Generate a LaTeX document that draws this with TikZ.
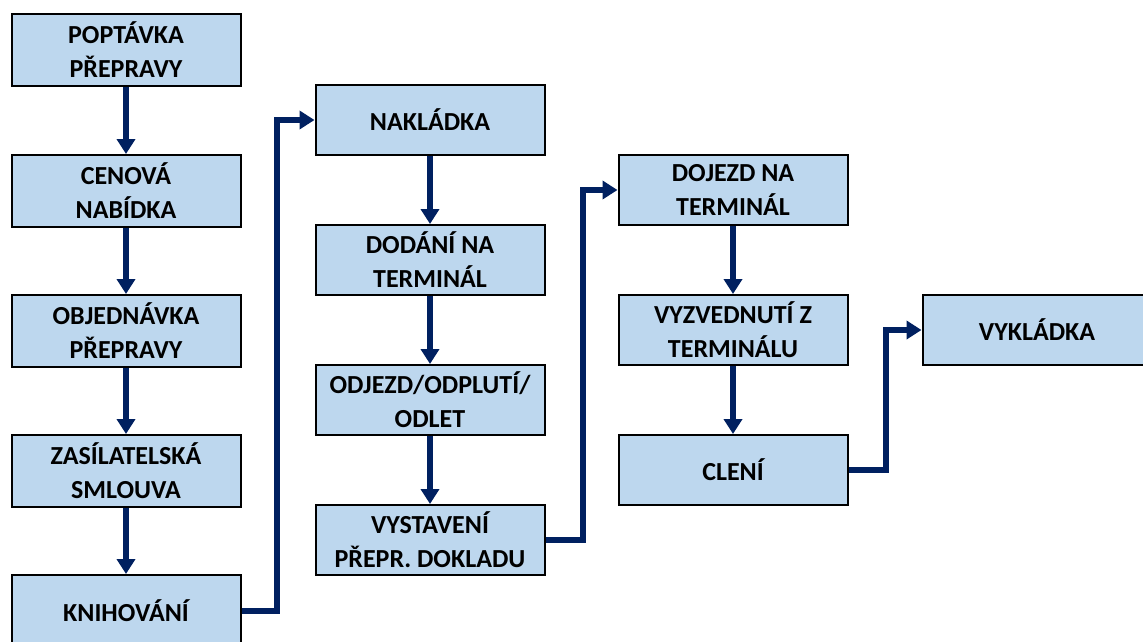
\documentclass[tikz,border=0pt]{standalone}
\usepackage{fontspec}
\setmainfont{Carlito}
\usetikzlibrary{arrows.meta}
\definecolor{boxfill}{HTML}{BDD7EE}
\definecolor{navy}{HTML}{002060}
\tikzset{
  stepbox/.style={draw=black, line width=2pt, fill=boxfill, rectangle,
    minimum width=229pt, minimum height=70pt, inner sep=0pt,
    align=center, text=black,
    font=\bfseries\fontsize{26}{34}\selectfont},
  flow/.style={draw=navy, line width=5.5pt,
    -{Triangle[length=15pt,width=18pt]}},
}
\begin{document}
\begin{tikzpicture}[x=1pt,y=-1pt]
\useasboundingbox (0,0) rectangle (1143,641);
\clip (0,0) rectangle (1143,641);
\fill[white] (0,0) rectangle (1143,641);
% column 1
\node[stepbox, minimum height=72pt] (a1) at (126,50) {POPTÁVKA\\PŘEPRAVY};
\node[stepbox, minimum height=72pt] (a2) at (126,191) {CENOVÁ\\NABÍDKA};
\node[stepbox, minimum height=72pt] (a3) at (126,331) {OBJEDNÁVKA\\PŘEPRAVY};
\node[stepbox, minimum height=72pt] (a4) at (126,471) {ZASÍLATELSKÁ\\SMLOUVA};
\node[stepbox, minimum height=72pt] (a5) at (126,611) {KNIHOVÁNÍ};
% column 2
\node[stepbox] (b1) at (430,120) {NAKLÁDKA};
\node[stepbox] (b2) at (430,260) {DODÁNÍ NA\\TERMINÁL};
\node[stepbox] (b3) at (430,400) {ODJEZD/ODPLUTÍ/\\ODLET};
\node[stepbox] (b4) at (430,540) {VYSTAVENÍ\\PŘEPR. DOKLADU};
% column 3
\node[stepbox] (c1) at (733,190) {DOJEZD NA\\TERMINÁL};
\node[stepbox] (c2) at (733,330) {VYZVEDNUTÍ Z\\TERMINÁLU};
\node[stepbox] (c3) at (733,470) {CLENÍ};
% column 4
\node[stepbox] (d1) at (1037,330) {VYKLÁDKA};
% elbow coordinates
\coordinate (e1) at (277,0);
\coordinate (e2) at (583,0);
\coordinate (e3) at (886,0);
% arrows
\draw[flow] (a1) -- (a2);
\draw[flow] (a2) -- (a3);
\draw[flow] (a3) -- (a4);
\draw[flow] (a4) -- (a5);
\draw[flow] (b1) -- (b2);
\draw[flow] (b2) -- (b3);
\draw[flow] (b3) -- (b4);
\draw[flow] (c1) -- (c2);
\draw[flow] (c2) -- (c3);
\draw[flow] (a5.east) -- (a5.east -| e1) |- (b1.west);
\draw[flow] (b4.east) -- (b4.east -| e2) |- (c1.west);
\draw[flow] (c3.east) -- (c3.east -| e3) |- (d1.west);
\end{tikzpicture}
\end{document}
